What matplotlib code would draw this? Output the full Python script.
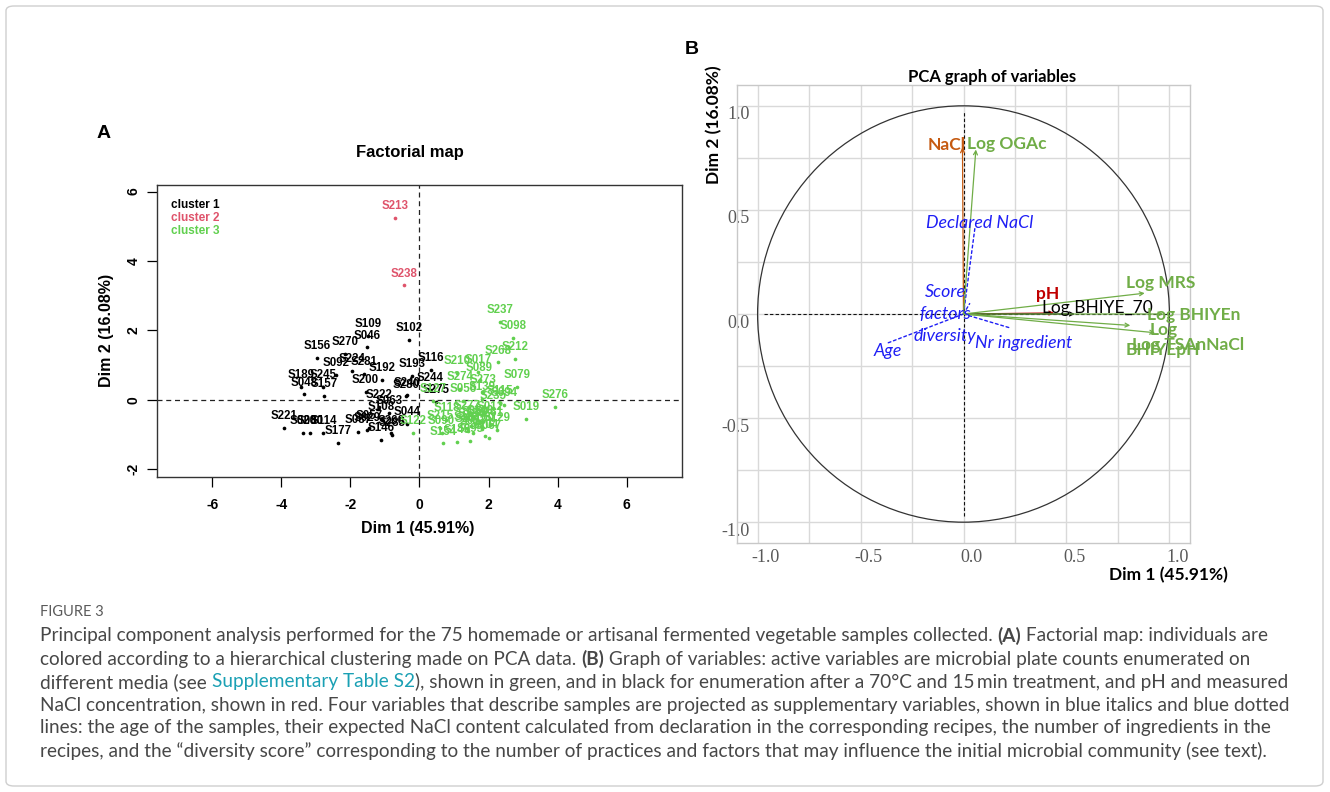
import matplotlib
matplotlib.use('Agg')
import matplotlib.pyplot as plt
import matplotlib.transforms as mtransforms
from matplotlib.patches import Circle, FancyBboxPatch
import numpy as np

# ---- panel A : individuals (Dim 1, Dim 2), one list per cluster ----
c1_names = ['S109', 'S046', 'S102', 'S156', 'S270', 'S224', 'S092', 'S281', 'S192', 'S193',
            'S116', 'S244', 'S200', 'S240', 'S280', 'S275', 'S189', 'S245', 'S048', 'S157',
            'S222', 'S063', 'S108', 'S221', 'S020', 'S080', 'S114', 'S177', 'S087', 'S029',
            'S057', 'S146', 'S260', 'S285', 'S044']
c1_x = [-1.50, -1.51, -0.31, -2.97, -2.15, -1.94, -2.42, -1.60, -1.08, -0.22,
        0.33, 0.30, -1.56, -0.36, -0.38, 0.49, -3.43, -2.80, -3.35, -2.77,
        -1.18, -0.88, -1.10, -3.93, -3.38, -3.17, -2.78, -2.35, -1.78, -1.51,
        -1.46, -1.12, -0.83, -0.79, -0.35]
c1_y = [1.85, 1.51, 1.72, 1.20, 1.32, 0.83, 0.72, 0.76, 0.58, 0.69,
        0.87, 0.29, 0.22, 0.14, 0.10, -0.05, 0.37, 0.37, 0.16, 0.12,
        -0.19, -0.38, -0.55, -0.81, -0.95, -0.95, -0.95, -1.24, -0.93, -0.87,
        -0.80, -1.15, -0.96, -1.00, -0.70]

c2_names = ['S213', 'S238']
c2_x = [-0.72, -0.45]
c2_y = [5.25, 3.30]

c3_names = ['S237', 'S098', 'S212', 'S268', 'S210', 'S017', 'S089', 'S274', 'S273', 'S139',
            'S056', 'S127', 'S079', 'S115', 'S235', 'S094', 'S276', 'S019', 'S118', 'S277',
            'S261', 'S129', 'S215', 'S182', 'S090', 'S122', 'S154', 'S145', 'S095', 'S104',
            'S067', 'S134', 'S059', 'S148', 'S160', 'S201', 'S053', 'S012']
c3_x = [2.33, 2.72, 2.77, 2.28, 1.08, 1.70, 1.74, 1.16, 1.85, 1.80,
        1.27, 0.40, 2.82, 2.33, 2.14, 2.45, 3.93, 3.09, 0.78, 1.37,
        2.04, 2.24, 0.59, 1.37, 0.64, -0.18, 0.69, 1.08, 1.46, 1.90,
        2.00, 1.50, 1.60, 1.75, 1.80, 1.40, 1.55, 2.05]
c3_y = [2.24, 1.79, 1.18, 1.08, 0.77, 0.80, 0.58, 0.32, 0.23, 0.02,
        -0.03, -0.02, 0.38, -0.08, -0.22, -0.15, -0.19, -0.55, -0.57, -0.52,
        -0.72, -0.86, -0.80, -0.82, -0.95, -0.95, -1.25, -1.22, -1.18, -1.05,
        -1.10, -0.75, -0.70, -0.65, -0.85, -0.90, -0.95, -0.55]

cluster_labels = ['cluster 1', 'cluster 2', 'cluster 3']
cluster_colors = ['#000000', '#DF536B', '#61D04F']

# ---- panel B : variables ----
act_names = ['NaCl', 'Log OGAc', 'pH', 'Log BHIYE_70', 'Log MRS', 'Log BHIYEn',
             'Log\nBHIYEpH', 'Log TSAnNaCl']
act_x = [-0.005, 0.06, 0.44, 0.54, 0.88, 0.97, 0.81, 0.93]
act_y = [0.80, 0.79, 0.005, 0.0, 0.10, 0.0, -0.055, -0.09]
sup_names = ['Declared NaCl', 'Score\nfactors\ndiversity', 'Age', 'Nr ingredient']
sup_x = [0.055, 0.03, -0.37, 0.22]
sup_y = [0.41, 0.05, -0.14, -0.065]

# label placement / colours for panel B
act_colors = ['#C55A11', '#70AD47', '#C00000', '#000000', '#70AD47', '#70AD47', '#70AD47', '#70AD47']
act_weights = ['bold', 'bold', 'bold', 'normal', 'bold', 'bold', 'bold', 'bold']
act_label_pos = [(-0.08, 0.81), (0.21, 0.815), (0.41, 0.094), (0.65, 0.03), (0.96, 0.15),
                 (1.12, -0.005), (0.97, -0.125), (1.09, -0.15)]
sup_label_pos = [(0.08, 0.435), (-0.09, 0.0), (-0.37, -0.18), (0.29, -0.14)]
blue = '#1E1EF5'

caption_lines = [
    [("Principal component analysis performed for the 75 homemade or artisanal fermented vegetable samples collected. ", 'n'),
     ("(A)", 'b'), (" Factorial map: individuals are", 'n')],
    [("colored according to a hierarchical clustering made on PCA data. ", 'n'), ("(B)", 'b'),
     (" Graph of variables: active variables are microbial plate counts enumerated on", 'n')],
    [("different media (see ", 'n'), ("Supplementary Table S2", 'l'),
     ("), shown in green, and in black for enumeration after a 70\u00b0C and 15\u2009min treatment, and pH and measured", 'n')],
    [("NaCl concentration, shown in red. Four variables that describe samples are projected as supplementary variables, shown in blue italics and blue dotted", 'n')],
    [("lines: the age of the samples, their expected NaCl content calculated from declaration in the corresponding recipes, the number of ingredients in the", 'n')],
    [("recipes, and the \u201cdiversity score\u201d corresponding to the number of practices and factors that may influence the initial microbial community (see text).", 'n')],
]

W, H = 1330, 792
fig = plt.figure(figsize=(W / 100, H / 100), dpi=100)


def fx(px):
    return px / W


def fy(py):
    return 1 - py / H


# ================= panel A =================
axA = fig.add_axes([fx(157), fy(477), (682 - 157) / W, (477 - 185) / H])
groups = [(c1_names, c1_x, c1_y), (c2_names, c2_x, c2_y), (c3_names, c3_x, c3_y)]
for (names, xs, ys), col in zip(groups, cluster_colors):
    axA.scatter(xs, ys, s=7, color=col, linewidths=0, zorder=3)
    for n, x, y in zip(names, xs, ys):
        axA.annotate(n, (x, y), xytext=(0, 8.5), textcoords='offset points', ha='center', va='center',
                     fontsize=8.3, color=col, fontweight='bold', family='Liberation Sans', zorder=4)

axA.axhline(0, color='#222222', lw=0.9, ls=(0, (4, 3)))
axA.axvline(0, color='#222222', lw=0.9, ls=(0, (4, 3)))
axA.set_xlim(-7.6, 7.6)
axA.set_ylim(-2.22, 6.19)
axA.set_xticks([-6, -4, -2, 0, 2, 4, 6])
axA.set_xticklabels(['-6', '-4', '-2', '0', '2', '4', '6'])
axA.set_yticks([-2, 0, 2, 4, 6])
axA.set_yticklabels(['-2', '0', '2', '4', '6'], rotation=90, va='center')
axA.tick_params(direction='out', length=7, width=0.9, labelsize=10)
axA.tick_params(axis='x', pad=8)
axA.tick_params(axis='y', pad=5)
for lab in axA.get_xticklabels() + axA.get_yticklabels():
    lab.set_fontweight('bold')
    lab.set_family('Liberation Sans')
for sp in axA.spines.values():
    sp.set_linewidth(1.0)
    sp.set_color('#333333')

for i, (lab, col) in enumerate(zip(cluster_labels, cluster_colors)):
    axA.text(0.027, 0.931 - 0.0445 * i, lab, transform=axA.transAxes, color=col, fontsize=8.5,
             fontweight='bold', family='Liberation Sans', va='center', ha='left')

fig.text(fx(104), fy(133), 'A', fontsize=14, fontweight='bold', family='Liberation Sans', ha='center', va='center')
fig.text(fx(410), fy(152), 'Factorial map', fontsize=12, fontweight='bold', family='Liberation Sans',
         ha='center', va='center')
fig.text(fx(418), fy(529), 'Dim 1 (45.91%)', fontsize=11.5, fontweight='bold', family='Liberation Sans',
         ha='center', va='center')
fig.text(fx(107), fy(330), 'Dim 2 (16.08%)', fontsize=11.5, fontweight='bold', family='Liberation Sans',
         ha='center', va='center', rotation=90)

# ================= panel B =================
axB = fig.add_axes([fx(737), fy(543), (1190 - 737) / W, (543 - 85) / H])
axB.set_xlim(-1.1, 1.1)
axB.set_ylim(-1.1, 1.1)
major = [-1.0, -0.5, 0.0, 0.5, 1.0]
axB.set_xticks(major)
axB.set_yticks(major)
axB.set_xticks(np.arange(-1, 1.01, 0.25), minor=True)
axB.set_yticks(np.arange(-1, 1.01, 0.25), minor=True)
axB.set_xticklabels(['-1.0', '-0.5', '0.0', '0.5', '1.0'])
axB.set_yticklabels(['-1.0', '-0.5', '0.0', '0.5', '1.0'])
axB.grid(which='both', color='#d9d9d9', lw=1.0)
axB.set_axisbelow(True)
axB.tick_params(which='both', length=0, labelsize=13, colors='#595959')
axB.tick_params(axis='x', pad=4)
axB.tick_params(axis='y', pad=-9)
for lab in axB.get_xticklabels() + axB.get_yticklabels():
    lab.set_family('Liberation Serif')
sx = mtransforms.ScaledTranslation(8 / 100, 0, fig.dpi_scale_trans)
sy = mtransforms.ScaledTranslation(0, -7 / 100, fig.dpi_scale_trans)
for lab in axB.get_xticklabels():
    lab.set_transform(lab.get_transform() + sx)
for lab in axB.get_yticklabels():
    lab.set_transform(lab.get_transform() + sy)
for sp in axB.spines.values():
    sp.set_color('#c8c8c8')
    sp.set_linewidth(1.0)

axB.add_patch(Circle((0, 0), 1.0, fill=False, ec='#333333', lw=0.9))
axB.plot([-0.97, 1.0], [0, 0], color='#111111', lw=0.8, ls=(0, (3, 2)))
axB.plot([0, 0], [-0.97, 0.97], color='#111111', lw=0.8, ls=(0, (3, 2)))

for x, y in zip(sup_x, sup_y):
    axB.annotate('', xy=(x, y), xytext=(0, 0),
                 arrowprops=dict(arrowstyle='-', color=blue, lw=1.0, linestyle=(0, (2, 2)),
                                 shrinkA=0, shrinkB=0))
for x, y, col in zip(act_x, act_y, act_colors):
    axB.annotate('', xy=(x, y), xytext=(0, 0),
                 arrowprops=dict(arrowstyle='->', color=col, lw=0.9, shrinkA=0, shrinkB=0,
                                 mutation_scale=7))

for n, (lx, ly), col, wt in zip(act_names, act_label_pos, act_colors, act_weights):
    axB.text(lx, ly, n, color=col, fontweight=wt, fontsize=12.5, family='Lato', ha='center', va='center',
             linespacing=1.3)
for n, (lx, ly) in zip(sup_names, sup_label_pos):
    axB.text(lx, ly, n, color=blue, style='italic', fontsize=12.8, family='Lato', ha='center', va='center',
             linespacing=1.45)

fig.text(fx(692), fy(50), 'B', fontsize=14, fontweight='bold', family='Liberation Sans', ha='center', va='center')
fig.text(fx(992), fy(77), 'PCA graph of variables', fontsize=12, fontweight='bold', family='Lato',
         ha='center', va='center')
fig.text(fx(1168), fy(575), 'Dim 1 (45.91%)', fontsize=12.5, fontweight='bold', family='Lato',
         ha='center', va='center')
fig.text(fx(714), fy(125), 'Dim 2 (16.08%)', fontsize=12.5, fontweight='bold', family='Lato',
         ha='center', va='center', rotation=90)

# ================= caption =================
renderer = fig.canvas.get_renderer()
probe = fig.text(0, 0, ''.join(s for s, _ in caption_lines[3]), fontsize=12, family='Lato')
cap_size = 12 * 1248 / probe.get_window_extent(renderer).width
probe.remove()

fig.text(fx(40), fy(612), 'FIGURE 3', fontsize=10.5, color='#5a5a5a', family='Lato', va='center')
for i, segs in enumerate(caption_lines):
    x = 40
    y = 636 + 23 * i
    for txt, kind in segs:
        col = '#1AA0B4' if kind == 'l' else '#474747'
        t = fig.text(fx(x), fy(y), txt, fontsize=cap_size, color=col, family='Lato', va='center',
                     fontweight='bold' if kind == 'b' else 'normal')
        x += t.get_window_extent(renderer).width

fig.patches.append(FancyBboxPatch((fx(6), fy(786)), (1323 - 6) / W, (786 - 6) / H,
                                  boxstyle='round,pad=0,rounding_size=0.006', transform=fig.transFigure,
                                  fill=False, ec='#cfcfcf', lw=1.0))

fig.savefig('out.png', dpi=100)
